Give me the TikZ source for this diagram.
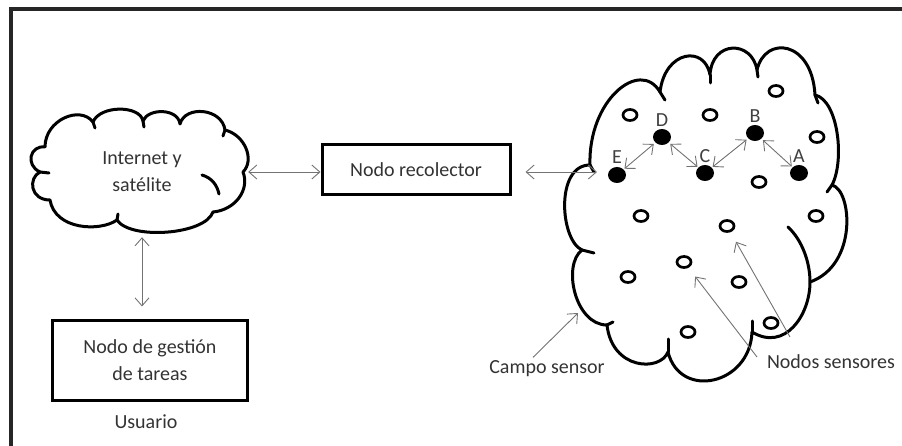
\documentclass[tikz,border=0pt]{standalone}
\usepackage{fontspec}
\setmainfont{Carlito}
\usetikzlibrary{arrows.meta}
\usetikzlibrary{shapes.geometric}

\tikzset{
  caja/.style={draw, line width=3pt, minimum width=188pt, minimum height=50pt, align=center},
  nube/.style={line width=3pt, line join=round, line cap=round},
  libre/.style={draw, ellipse, line width=2.7pt, minimum width=14pt, minimum height=11pt, inner sep=0pt},
  activo/.style={ellipse, fill=black, minimum width=18pt, minimum height=16pt, inner sep=0pt},
  flecha/.style={draw=black!55, line width=0.9pt},
  letra/.style={text=black!75}
}

\begin{document}
\begin{tikzpicture}[x=1pt, y=-1pt, font=\fontsize{20}{27}\selectfont, text=black!80,
  >={Straight Barb[length=8pt,width=14pt]}]
\useasboundingbox (0,0) rectangle (902,446);
% marco
\draw[line width=3.2pt, black!85] (11,446) -- (11,9) -- (902,9);

% nube pequena
\draw[nube] (45,147) .. controls (45,120) and (80,105) .. (93,122)
  .. controls (100,105) and (140,105) .. (143,121)
  .. controls (148,108) and (178,108) .. (180,124)
  .. controls (185,105) and (222,108) .. (225,130)
  .. controls (245,135) and (255,160) .. (243,172)
  .. controls (250,190) and (235,210) .. (213,212)
  .. controls (205,235) and (130,240) .. (117,220)
  .. controls (100,232) and (55,230) .. (50,200)
  .. controls (30,200) and (28,178) .. (40,172)
  .. controls (25,165) and (30,145) .. (45,147) -- cycle;
\draw[nube] (202,175) .. controls (212,178) and (217,185) .. (219,194);
\draw[nube] (93,122) -- (95,128);
\draw[nube] (143,121) -- (144,127);
\draw[nube] (225,130) -- (223,136);
\draw[nube] (40,172) -- (49,173);
\draw[nube] (117,220) -- (118,214);
\node[minimum width=212pt, minimum height=120pt, align=center] (inet) at (142,172) {Internet y\\satélite};

% cajas
\node[caja] (recol) at (416,170) {Nodo recolector};
\node[caja, minimum width=195pt, minimum height=80pt] (gestion) at (150,360) {Nodo de gestión\\de tareas};
\node (usuario) at (146,422) {Usuario};

% nube grande
\draw[nube] (590,165) .. controls (588,100) and (640,58) .. (660,92)
  .. controls (665,50) and (705,45) .. (710,75)
  .. controls (712,40) and (752,40) .. (757,70)
  .. controls (765,35) and (812,40) .. (815,95)
  .. controls (838,100) and (845,160) .. (832,185)
  .. controls (852,190) and (858,265) .. (810,282)
  .. controls (810,315) and (785,352) .. (752,332)
  .. controls (750,385) and (680,400) .. (668,352)
  .. controls (660,372) and (612,370) .. (607,325)
  .. controls (575,325) and (562,265) .. (582,250)
  .. controls (560,240) and (555,165) .. (590,165) -- cycle;
\draw[nube] (660,92) -- (665,100);
\draw[nube] (710,75) -- (710,83);
\draw[nube] (757,70) -- (758,77);
\draw[nube] (815,95) -- (818,103);
\draw[nube] (832,185) -- (827,192);
\draw[nube] (788,227) .. controls (802,240) and (810,262) .. (810,282);
\draw[nube] (752,332) -- (752,321);
\draw[nube] (668,352) -- (668,339);
\draw[nube] (607,325) -- (613,322);
\draw[nube] (582,250) -- (594,253);
\draw[nube] (590,165) -- (594,172);
\node[minimum width=282pt, minimum height=342pt] (campo) at (707,216) {};

% nodos sensores libres
\node[libre] (s1) at (630,115) {};
\node[libre] (s2) at (710,115) {};
\node[libre] (s3) at (776,91) {};
\node[libre] (s4) at (817,137) {};
\node[libre] (s5) at (759,182) {};
\node[libre] (s6) at (641,216) {};
\node[libre] (s7) at (727,226) {};
\node[libre] (s8) at (816,216) {};
\node[libre] (s9) at (684,262) {};
\node[libre] (s10) at (628,277) {};
\node[libre] (s11) at (739,282) {};
\node[libre] (s12) at (688,332) {};
\node[libre] (s13) at (771,323) {};

% nodos activos
\node[activo, label={[letra, label distance=-1pt]above:D}] (nD) at (662,137) {};
\node[activo, label={[letra, label distance=-1pt]above:B}] (nB) at (755,133) {};
\node[activo, label={[letra, label distance=0pt]above:E}] (nE) at (617,175) {};
\node[activo, label={[letra, label distance=-1pt]above:C}] (nC) at (705,173) {};
\node[activo, label={[letra, label distance=-1pt]above:A}] (nA) at (799,173) {};

{[>={Straight Barb[length=7pt,width=12pt]}]
\draw[flecha, <->, shorten <=1pt, shorten >=2pt] (nE) -- (nD);
\draw[flecha, <->, shorten <=1pt, shorten >=2pt] (nC) -- (nD);
\draw[flecha, <->, shorten <=1pt, shorten >=2pt] (nC) -- (nB);
\draw[flecha, <->, shorten <=1pt, shorten >=2pt] (nA) -- (nB);
}

% enlaces
\draw[flecha, <->] (inet.east) -- (inet.east -| recol.west);
\draw[flecha, <->] ([yshift=-5pt]inet.south) -- ([yshift=12pt]inet.south |- gestion.north);
\coordinate (entrada) at (597,172);
\draw[flecha, <->] ([xshift=14pt]recol.east |- entrada) -- (entrada);

% etiquetas
\node (campoTxt) at (547,369) {Campo sensor};
\coordinate (borde) at (578,313);
\draw[flecha, ->] ([xshift=-14pt]campoTxt.north) -- (borde);
\node (sensTxt) at (831,362) {Nodos sensores};
\coordinate (sa) at (757,357);
\coordinate (sb) at (790,337);
\draw[flecha, ->, shorten >=11pt] (sa) -- (s9);
\draw[flecha, ->, shorten >=11pt] (sb) -- (s7);
\end{tikzpicture}
\end{document}
